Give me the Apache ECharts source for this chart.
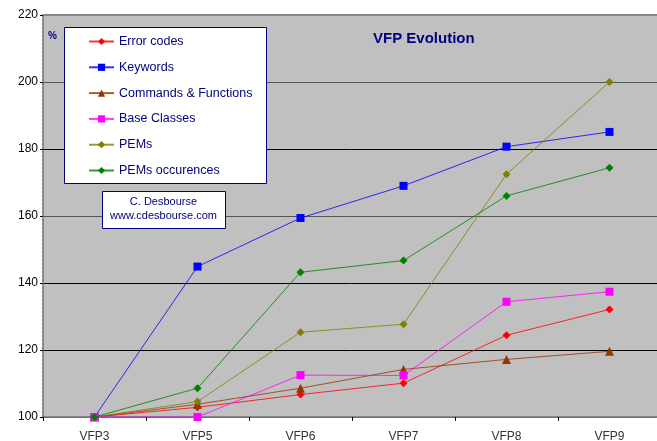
<!DOCTYPE html>
<html><head><meta charset="utf-8">
<script src="https://cdn.jsdelivr.net/npm/echarts@6/dist/echarts.min.js"></script>
<style>html,body{margin:0;padding:0;background:#fff}#c{width:657px;height:441px}</style>
</head><body><div id="c"></div>
<script>
var categories = ['VFP3','VFP5','VFP6','VFP7','VFP8','VFP9'];
var errorCodes = [100, 102.9, 106.7, 110.1, 124.4, 132.1];
var keywords = [100, 144.9, 159.4, 169.0, 180.7, 185.1];
var commandsFunctions = [100, 103.8, 108.6, 114.2, 117.2, 119.6];
var baseClasses = [100, 100, 112.5, 112.4, 134.4, 137.4];
var pems = [100, 104.6, 125.3, 127.7, 172.5, 200];
var pemsOccurences = [100, 108.6, 143.2, 146.7, 166.0, 174.4];
var seriesNames = ['Error codes','Keywords','Commands & Functions','Base Classes','PEMs','PEMs occurences'];
var seriesColors = ['#FF0000','#0000FF','#993300','#FF00FF','#808000','#008000'];
var seriesSymbols = ['diamond','rect','triangle','rect','diamond','diamond'];
var seriesData = [errorCodes, keywords, commandsFunctions, baseClasses, pems, pemsOccurences];

var chart = echarts.init(document.getElementById('c'));
var FONT = 'Liberation Sans, Arial, sans-serif';
var series = seriesData.map(function(d,i){
  return {
    name: seriesNames[i], type:'line', data:d,
    symbol: seriesSymbols[i],
    symbolSize: seriesSymbols[i]==='rect' ? 8 : (seriesSymbols[i]==='triangle' ? 9 : 8),
    itemStyle:{color:seriesColors[i]},
    lineStyle:{color:seriesColors[i], width:1, opacity:0.8},
    emphasis:{disabled:true}, animation:false
  };
});
chart.setOption({
  animation:false,
  backgroundColor:'#fff',
  grid:{left:43, top:15, width:618, height:402, outerBoundsMode:'none', containLabel:false, show:true, backgroundColor:'#C0C0C0', borderColor:'#999', borderWidth:0},
  title:{text:'VFP Evolution', left:368, top:26, textStyle:{color:'#000080', fontFamily:FONT, fontSize:15, fontWeight:'bold'}},
  legend:{
    orient:'vertical', left:88, top:35, itemWidth:25, itemHeight:9, itemGap:12.8, z:20,
    data:seriesNames, textStyle:{color:'#000080', fontFamily:FONT, fontSize:12.5}, padding:0, selectedMode:false
  },
  xAxis:{
    type:'category', data:categories, boundaryGap:true,
    axisLine:{lineStyle:{color:'#808080', width:2, type:'dotted'}},
    axisTick:{show:true, length:4, lineStyle:{color:'#000'}},
    axisLabel:{color:'#333', fontFamily:FONT, fontSize:12, margin:14}
  },
  yAxis:{
    type:'value', min:100, max:220, interval:20,
    axisLine:{show:true, lineStyle:{color:'#808080', width:2, type:'dotted'}},
    axisTick:{show:true, length:3, lineStyle:{color:'#000'}},
    axisLabel:{color:'#000', fontFamily:FONT, fontSize:12, margin:5},
    splitLine:{show:true, lineStyle:{color:['#000','#000','#000','#555','#000','#555','#888'], width:1}}
  },
  graphic:[
    {type:'rect', left:43, top:14, shape:{width:618, height:2}, style:{fill:'#888'}, z:1},
    {type:'rect', left:64, top:27, shape:{width:202, height:156}, style:{fill:'#fff', stroke:'#000080', lineWidth:1}, z:5},
    {type:'text', left:48, top:31, style:{text:'%', fill:'#000080', font:'bold 10px '+FONT}, z:10},
    {type:'rect', left:102, top:191, shape:{width:123, height:37}, style:{fill:'#fff', stroke:'#000080', lineWidth:1}, z:5},
    {type:'text', x:163.5, y:202, style:{text:'C. Desbourse', fill:'#000080', font:'11px '+FONT, align:'center', verticalAlign:'middle'}, z:10},
    {type:'text', x:163.5, y:216, style:{text:'www.cdesbourse.com', fill:'#000080', font:'11px '+FONT, align:'center', verticalAlign:'middle'}, z:10}
  ],
  series: series
});
</script></body></html>
